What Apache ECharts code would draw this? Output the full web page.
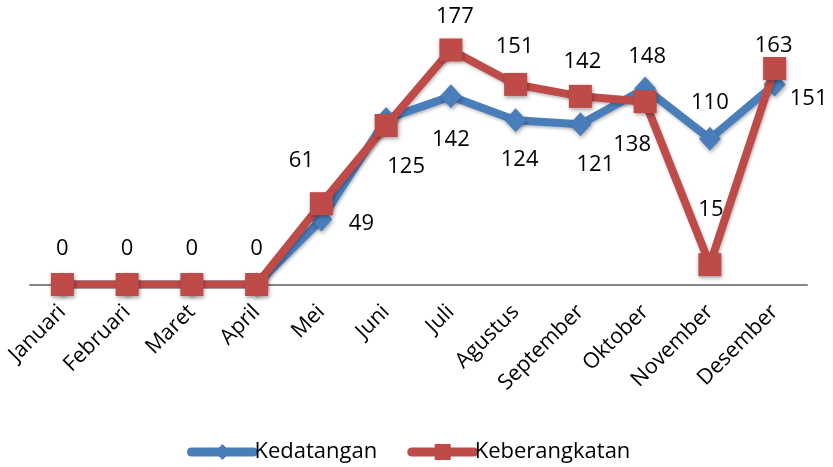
<!DOCTYPE html>
<html>
<head>
<meta charset="utf-8">
<script src="https://cdn.jsdelivr.net/npm/echarts@6/dist/echarts.min.js"></script>
<style>
html,body{margin:0;padding:0;background:#fff;}
#main{width:833px;height:467px;}
</style>
</head>
<body>
<div id="main"></div>
<script>
// Data
const categories = ['Januari','Februari','Maret','April','Mei','Juni','Juli','Agustus','September','Oktober','November','Desember'];
const kedatangan = [0,0,0,0,49,125,142,124,121,148,110,151];
const keberangkatan = [0,0,0,0,61,120,177,151,142,138,15,163];

// Label placement (style, kept separate from data)
const kedLabelOffset = [null,null,null,null,[40,4],[20,48],[0,43],[4,40],[15,41],[2,-32],[0,-36],[34,14]];
const kebLabelOffset = [[0,-36],[0,-36],[0,-36],[0,-36],[-20,-43],null,[4,-33],[-1,-38],[2,-35],[-13,43],[1,-55],[-1,-23]];

const FONT = '"Open Sans", "Liberation Sans", sans-serif';

function buildData(values, offsets) {
  return values.map(function (v, i) {
    const off = offsets[i];
    if (!off) return { value: v, label: { show: false } };
    return { value: v, label: { show: true, position: 'inside', offset: off } };
  });
}

const chart = echarts.init(document.getElementById('main'), null, { renderer: 'canvas' });
chart.setOption({
  animation: false,
  backgroundColor: '#ffffff',
  grid: { left: 30, right: 26, top: 19.5, bottom: 182.5, containLabel: false },
  xAxis: {
    type: 'category',
    data: categories,
    boundaryGap: true,
    axisLine: { show: true, lineStyle: { color: '#868686', width: 2 } },
    axisTick: { show: false },
    axisLabel: { rotate: 45, margin: 24, fontSize: 21.5, color: '#000', fontFamily: FONT, interval: 0 },
    splitLine: { show: false }
  },
  yAxis: {
    type: 'value',
    min: 0,
    max: 200,
    show: false,
    splitLine: { show: false }
  },
  legend: {
    bottom: -1,
    left: 182,
    itemWidth: 62,
    itemHeight: 20,
    itemGap: 30,
    lineStyle: { width: 9, cap: 'round' },
    textStyle: { fontSize: 22, color: '#000', fontFamily: FONT, padding: [0, 0, 0, -4] },
    data: ['Kedatangan', 'Keberangkatan']
  },
  series: [
    {
      name: 'Kedatangan',
      type: 'line',
      data: buildData(kedatangan, kedLabelOffset),
      symbol: 'diamond',
      symbolSize: [22, 24],
      color: '#4A7EBB',
      lineStyle: { width: 8, color: '#4A7EBB', cap: 'round', shadowBlur: 3, shadowColor: 'rgba(0,0,0,0.25)', shadowOffsetX: 1, shadowOffsetY: 2 },
      itemStyle: { color: '#4A7EBB', shadowBlur: 4, shadowColor: 'rgba(0,0,0,0.35)', shadowOffsetX: 1, shadowOffsetY: 2 },
      label: { fontSize: 22, color: '#000', fontFamily: FONT },
      z: 2
    },
    {
      name: 'Keberangkatan',
      type: 'line',
      data: buildData(keberangkatan, kebLabelOffset),
      symbol: 'rect',
      symbolSize: 23,
      color: '#BE4B48',
      lineStyle: { width: 8, color: '#BE4B48', cap: 'round', shadowBlur: 3, shadowColor: 'rgba(0,0,0,0.25)', shadowOffsetX: 1, shadowOffsetY: 2 },
      itemStyle: { color: '#BE4B48', shadowBlur: 4, shadowColor: 'rgba(0,0,0,0.35)', shadowOffsetX: 1, shadowOffsetY: 2 },
      label: { fontSize: 22, color: '#000', fontFamily: FONT },
      z: 3
    }
  ]
});
</script>
</body>
</html>
